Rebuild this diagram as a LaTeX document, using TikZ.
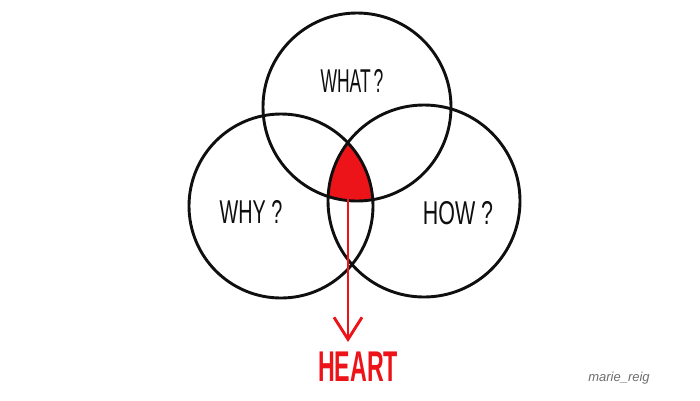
\documentclass[tikz,border=0pt]{standalone}
\usepackage{graphicx}
\usepackage{fontspec}
\setmainfont{Liberation Sans}
\usetikzlibrary{arrows.meta}
\definecolor{inkred}{RGB}{236,20,24}
\definecolor{ink}{RGB}{15,15,15}
\definecolor{sig}{RGB}{110,110,110}
\newcommand{\narrow}[2]{\scalebox{#1}[1]{#2}}
\tikzset{
  ring/.style={circle, draw=ink, line width=2.9pt, inner sep=0pt},
  lbl/.style={text=ink, font=\fontsize{33}{33}\selectfont, inner sep=0pt},
  redline/.style={draw=inkred, line width=2.9pt},
}
\begin{document}
\begin{tikzpicture}[x=1pt,y=-1pt]
\fill[white] (0,0) rectangle (700,400);
\useasboundingbox (0,0) rectangle (700,400);
% centres
\coordinate (ctop) at (357,107);
\coordinate (cleft) at (281,206);
\coordinate (cright) at (424,201);
% red intersection
\begin{scope}
  \clip (ctop) circle[radius=94pt];
  \clip (cleft) circle[radius=92pt];
  \fill[inkred] (cright) circle[radius=96pt];
\end{scope}
% circles
\node[ring, minimum size=188pt] (top) at (ctop) {};
\node[ring, minimum size=184pt] (left) at (cleft) {};
\node[ring, minimum size=192pt] (right) at (cright) {};
% labels
\node[lbl] (what) at (352,81) {\narrow{0.53}{WHAT\,?}};
\node[lbl] (why) at (251,212) {\narrow{0.60}{WHY ?}};
\node[lbl] (how) at (458,213) {\narrow{0.65}{HOW ?}};
% arrow
\coordinate (astart) at (348,172);
\coordinate (atip) at (348,342);
\draw[redline, -{Straight Barb[length=22pt,width=28pt,line width=2.9pt]}] (astart) -- (atip);
\node[text=inkred, font=\fontsize{43}{43}\selectfont\bfseries, inner sep=0pt] (heart) at (358,367) {\narrow{0.54}{HEART}};
% signature
\node[text=sig, font=\fontsize{13}{13}\selectfont\itshape, inner sep=0pt] (sign) at (619,378) {marie\_reig};
\end{tikzpicture}
\end{document}
